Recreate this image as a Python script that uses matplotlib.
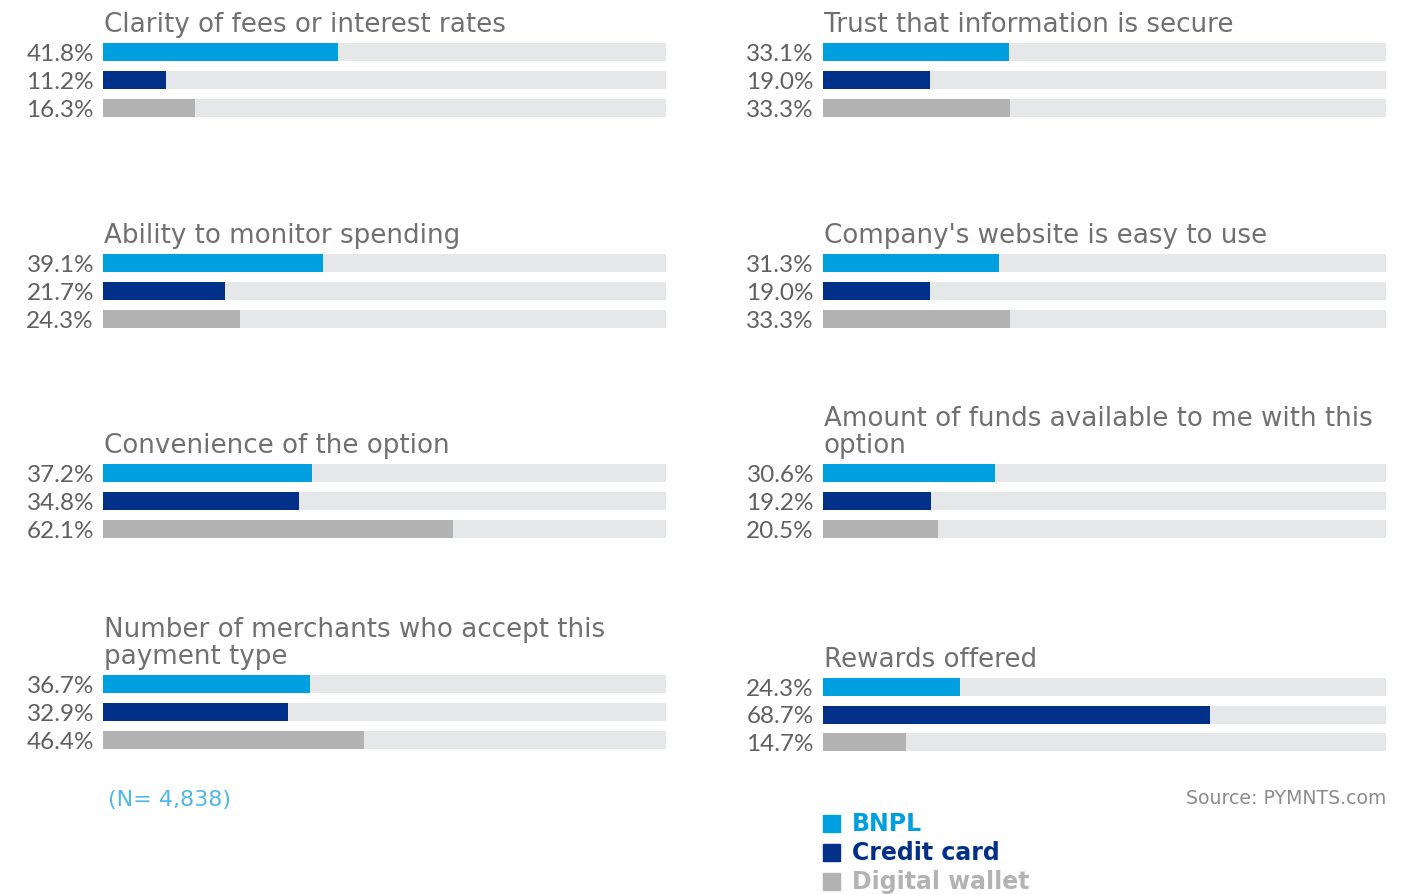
import matplotlib
matplotlib.use("Agg")
import matplotlib.pyplot as plt
from matplotlib.patches import Rectangle

plt.rcParams['font.family'] = ['Lato', 'DejaVu Sans']

# data
titles_left = ["Clarity of fees or interest rates",
               "Ability to monitor spending",
               "Convenience of the option",
               "Number of merchants who accept this\npayment type"]
bnpl_left = [41.8, 39.1, 37.2, 36.7]
cc_left = [11.2, 21.7, 34.8, 32.9]
dw_left = [16.3, 24.3, 62.1, 46.4]

titles_right = ["Trust that information is secure",
                "Company's website is easy to use",
                "Amount of funds available to me with this\noption",
                "Rewards offered"]
bnpl_right = [33.1, 31.3, 30.6, 24.3]
cc_right = [19.0, 19.0, 19.2, 68.7]
dw_right = [33.3, 33.3, 20.5, 14.7]

series = ["BNPL", "Credit card", "Digital wallet"]
colors = ["#009FDF", "#003087", "#B3B3B3"]
track = "#E6E7E8"
title_col = "#707070"
label_col = "#606060"

W, H = 1424, 895
fig = plt.figure(figsize=(W / 100, H / 100), dpi=100)

def panel(x0, first_center, step, title, vals):
    # axes in pixel layout: 3 rows, step px apart
    top = first_center - step / 2
    ax = fig.add_axes([x0 / W, 1 - (top + 3 * step) / H, 563 / W, 3 * step / H])
    ys = [0, 1, 2]
    ax.barh(ys, [100] * 3, height=18 / step, color=track)
    ax.barh(ys, vals, height=18 / step, color=colors)
    ax.set_xlim(0, 100)
    ax.set_ylim(2.5, -0.5)
    ax.axis('off')
    for y, v in zip(ys, vals):
        ax.text(-0.016, y + 0.05, f"{v:.1f}%", transform=ax.get_yaxis_transform(),
                ha='right', va='center', fontsize=17.5, color=label_col)
    # baseline ~21 px above first bar centre
    ax.annotate(title, xy=(0, 1), xycoords='axes fraction',
                xytext=(0.7, (21 - step / 2) / 1.389), textcoords='offset points',
                ha='left', va='baseline', fontsize=18.8, color=title_col,
                family='DejaVu Sans', linespacing=1.05)
    return ax

left_centers = [53, 264, 474, 685]
right_centers = [53, 264, 474, 688]
for i in range(4):
    panel(103, left_centers[i], 28, titles_left[i], [bnpl_left[i], cc_left[i], dw_left[i]])
    panel(823, right_centers[i], 28 if i < 3 else 27.5, titles_right[i],
          [bnpl_right[i], cc_right[i], dw_right[i]])

fig.text(108 / W, 1 - 800 / H, "(N= 4,838)", ha='left', va='center',
         fontsize=16, color="#4DB8E8", family='DejaVu Sans')
fig.text(1386 / W, 1 - 799 / H, "Source: PYMNTS.com", ha='right', va='center',
         fontsize=13.6, color="#8C8C8C", family='DejaVu Sans')

leg_y = [824, 853, 882]
for name, c, y in zip(series, colors, leg_y):
    fig.patches.append(Rectangle((823 / W, 1 - (y + 8.5) / H), 17 / W, 17 / H,
                                 transform=fig.transFigure, color=c))
    fig.text(852 / W, 1 - y / H, name, ha='left', va='center', fontsize=17,
             fontweight='bold', color=c, family='DejaVu Sans')

fig.savefig("out.png", dpi=100)
